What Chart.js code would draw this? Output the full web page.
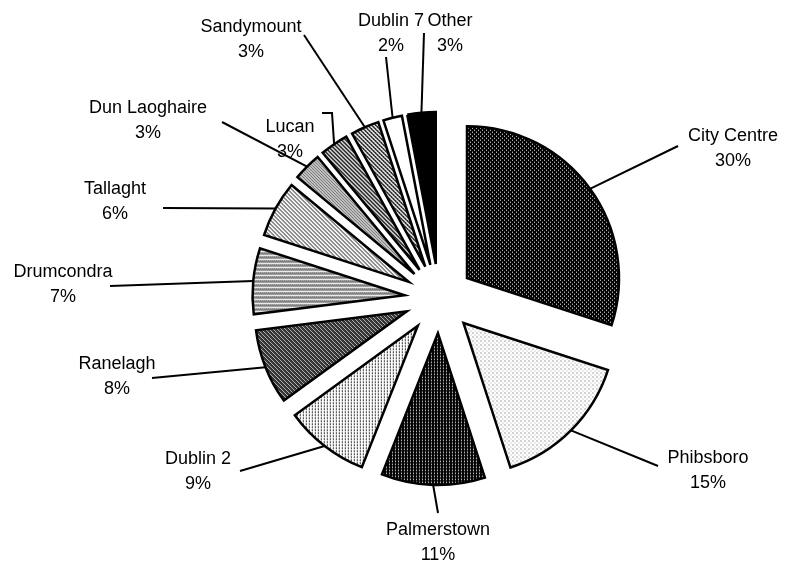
<!DOCTYPE html>
<html>
<head>
<meta charset="utf-8">
<script src="https://cdn.jsdelivr.net/npm/chart.js@4.4.0/dist/chart.umd.min.js"></script>
<style>
  html, body { margin: 0; padding: 0; background: #fff; }
  #wrap { width: 791px; height: 567px; position: relative; }
</style>
</head>
<body>
<div id="wrap"><canvas id="chart"></canvas></div>
<script>
// chart data
const areas = ["City Centre", "Phibsboro", "Palmerstown", "Dublin 2", "Ranelagh", "Drumcondra",
    "Tallaght", "Dun Laoghaire", "Lucan", "Sandymount", "Dublin 7", "Other"];
const shares = [30, 15, 11, 9, 8, 7, 6, 3, 3, 3, 2, 3];

// where each label sits (text centre) and where its leader line ends
const labelPos = [[733, 136], [708, 458], [438, 530], [198, 459], [117, 364], [63, 272],
    [115, 189], [148, 108], [290, 127], [251, 27], [391, 21], [450, 21]];
const leaderEnd = [[[678, 146]], [[658, 466]], [[438, 513]], [[240, 471]], [[152, 378]], [[110, 286]],
    [[163, 208]], [[222, 122]], [[332, 113], [322, 113]], [[304, 35]], [[386, 57]], [[424, 33]]];

// how far every slice is pulled out from the centre
const explode = 34.6;

// fill patterns, '#' black, '+' dark grey, 'o' light grey, '.' white
const tiles = [
    [".###", "####", "##.#", "####"],
    ["+...", "....", "..o.", "...."],
    [".##", "+##", "###"],
    ["#..", "+..", "..."],
    ["#.#+", "+#.#", "#+#.", ".#+#"],
    ["#.#.", ".#.#", "....", "+.+."],
    ["#...", ".#..", "..#.", "...#"],
    ["#..", ".#.", "..#"],
    ["##..", ".##.", "..##", "#..#"],
    ["##..", ".#+.", "..##", "+..#"],
    ["."],
    ["#"]
];
const tileColors = { "#": "#000000", "+": "#555555", "o": "#aaaaaa", ".": "#ffffff" };

function makePattern(rows) {
    const c = document.createElement("canvas");
    c.width = rows[0].length;
    c.height = rows.length;
    const g = c.getContext("2d");
    rows.forEach(function (row, y) {
        for (let x = 0; x < row.length; x++) {
            g.fillStyle = tileColors[row[x]];
            g.fillRect(x, y, 1, 1);
        }
    });
    return document.getElementById("chart").getContext("2d").createPattern(c, "repeat");
}

const fills = tiles.map(makePattern);
const total = shares.reduce(function (a, b) { return a + b; }, 0);

// draw each slice shifted out along its middle angle (keeps its size, unlike the built-in offset)
const explodePlugin = {
    id: "explode",
    beforeDatasetDraw: function (chart, args) {
        const ctx = chart.ctx;
        args.meta.data.forEach(function (arc) {
            const mid = (arc.startAngle + arc.endAngle) / 2;
            ctx.save();
            ctx.translate(Math.cos(mid) * explode, Math.sin(mid) * explode);
            arc.draw(ctx);
            ctx.restore();
        });
        return false;
    }
};

const labelPlugin = {
    id: "pieLabels",
    afterDraw: function (chart) {
        const ctx = chart.ctx;
        const arcs = chart.getDatasetMeta(0).data;
        ctx.save();
        ctx.strokeStyle = "#000";
        ctx.lineWidth = 2;
        ctx.lineJoin = "miter";
        arcs.forEach(function (arc, i) {
            const mid = (arc.startAngle + arc.endAngle) / 2;
            const r = arc.outerRadius + explode;
            ctx.beginPath();
            ctx.moveTo(arc.x + Math.cos(mid) * r, arc.y + Math.sin(mid) * r);
            leaderEnd[i].forEach(function (p) { ctx.lineTo(p[0], p[1]); });
            ctx.stroke();
        });
        ctx.fillStyle = "#000";
        ctx.font = "18px 'Liberation Sans', Arial, sans-serif";
        ctx.textAlign = "center";
        ctx.textBaseline = "middle";
        areas.forEach(function (name, i) {
            const p = labelPos[i];
            ctx.fillText(name, p[0], p[1]);
            ctx.fillText(Math.round(shares[i] / total * 100) + "%", p[0], p[1] + 25);
        });
        ctx.restore();
    }
};

new Chart(document.getElementById("chart"), {
    type: "pie",
    data: {
        labels: areas,
        datasets: [{
            data: shares,
            backgroundColor: fills,
            borderColor: "#000",
            borderWidth: 2.5,
            borderJoinStyle: "miter",
            offset: 0,
            hoverOffset: 0
        }]
    },
    options: {
        responsive: true,
        maintainAspectRatio: false,
        animation: false,
        events: [],
        radius: 152,
        layout: { padding: { left: 87, right: 0, top: 30, bottom: 0 } },
        plugins: {
            legend: { display: false },
            tooltip: { enabled: false }
        }
    },
    plugins: [explodePlugin, labelPlugin]
});
</script>
</body>
</html>
